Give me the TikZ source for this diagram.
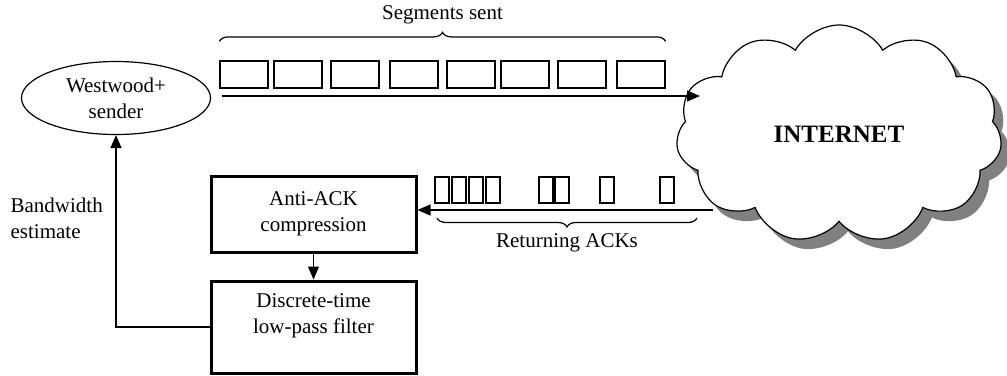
\documentclass[tikz,border=0pt]{standalone}
\usepackage{fontspec}
\setmainfont{Liberation Serif}
\usetikzlibrary{positioning,arrows.meta,shapes.geometric,shapes.symbols,shadows,decorations.pathreplacing}

\begin{document}
\begin{tikzpicture}[x=1pt, y=-1pt, line width=1.2pt,
  font=\fontsize{21}{26}\selectfont,
  >={Triangle[length=13pt,width=11pt]},
  segbox/.style={draw, minimum width=48pt, minimum height=27pt, inner sep=0pt},
  ackbox/.style={draw, minimum width=14pt, minimum height=26pt, inner sep=0pt},
  block/.style={draw, line width=3pt, minimum width=205pt, align=center},
  brc/.style={decorate, decoration={brace, amplitude=9pt}}]
  \useasboundingbox (0,0) rectangle (1007,375);

  \node[ellipse, draw, minimum width=189pt, minimum height=73pt, inner sep=0pt, align=center] (sender) at (116,98) {Westwood+\\sender};

  % segments on the way out
  \foreach \x [count=\i] in {220,274,331,390,447,501,558,617}
    \node[segbox] (seg\i) at (\x+24,74.5) {};
  \draw[brc] ([yshift=19pt]seg1.north west) -- ([yshift=19pt]seg8.north east)
    node[midway, above=13pt] (segtxt) {Segments sent};

  % acks coming back
  \foreach \x [count=\i] in {435,452,469,486,539,555,600,660}
    \node[ackbox] (ack\i) at (\x+7,190) {};
  \node[block, minimum height=76pt] (antiack) at (313.5,214) {Anti-ACK\\compression};
  \node[block, minimum height=92pt] (filter) at (313.5,327) {Discrete-time\\low-pass filter\\\mbox{}};
  \coordinate (ackstart) at (713,210);
  \draw[->] (ackstart) -- (ackstart -| antiack.east);
  \draw[brc] (697,218) -- (437,218)
    node[midway, below=12pt] (acktxt) {Returning ACKs};

  \node[cloud, draw, fill=white, cloud puffs=11, cloud puff arc=120, aspect=1.5,
    minimum width=326pt, minimum height=218pt, inner sep=0pt,
    drop shadow={shadow xshift=9pt, shadow yshift=-10pt, fill=black!50, opacity=1},
    font=\fontsize{25}{30}\selectfont\bfseries] (internet) at (839,134) {INTERNET};

  \coordinate (sendstart) at (222,96);
  \coordinate (sendend) at (700,96);
  \draw[->] (sendstart) -- (sendend);

  \draw[->] (antiack) -- (filter);
  \draw[->] (filter.west) -| (sender.south);
  \node[align=left, anchor=west] (bwlabel) at (6.7,218) {Bandwidth\\estimate};
\end{tikzpicture}
\end{document}
